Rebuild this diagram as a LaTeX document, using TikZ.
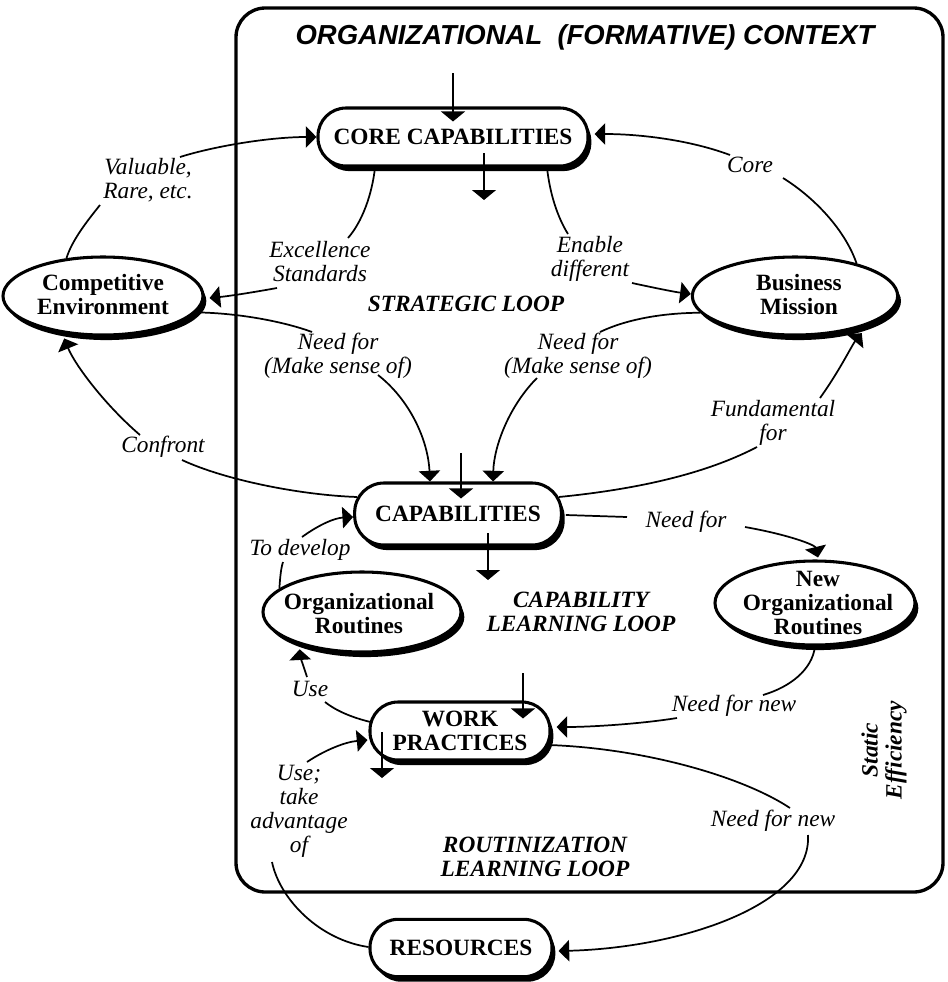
\documentclass[tikz,border=0pt]{standalone}
\usepackage{fontspec}
\setmainfont{Liberation Serif}
\newfontfamily\titlefamily{Liberation Sans}
\usetikzlibrary{shapes.geometric,arrows.meta,shadows,calc}
\newcommand{\nodefont}{\bfseries\fontsize{17.5}{18}\selectfont}
\newcommand{\labfont}{\itshape\fontsize{17.5}{18}\selectfont}
\newcommand{\loopfont}{\bfseries\itshape\fontsize{17.5}{18}\selectfont}
\newcommand{\tfont}{\titlefamily\bfseries\itshape\fontsize{20.6}{22}\selectfont}
\begin{document}
\begin{tikzpicture}[x=0.75pt,y=-0.75pt,
  every node/.style={inner sep=0pt},
  conn/.style={line width=1.3pt},
  tipped/.style={conn,-{Triangle[width=16pt,length=8pt]}},
  vert/.style={line width=1.1pt,-{Triangle[width=18pt,length=7.5pt]}},
  shadowed/.style={drop shadow={shadow xshift=2.5pt,shadow yshift=-3.8pt,fill=black,opacity=1}},
  pill/.style={draw,line width=2.3pt,fill=white,rectangle,shadowed,font=\nodefont,align=center},
  oval/.style={draw,line width=2.3pt,fill=white,ellipse,shadowed},
  nodetext/.style={font=\nodefont,align=center},
  lab/.style={font=\labfont,align=center,inner sep=1pt},
  looplab/.style={font=\loopfont,align=center},
]
\useasboundingbox (0,0) rectangle (948,982);
\fill[white] (0,0) rectangle (948,982);

% context frame
\draw[line width=2.5pt,rounded corners=22pt] (236,8) rectangle (943,892);
\node[font=\tfont] (title) at (585,37) {ORGANIZATIONAL~~(FORMATIVE) CONTEXT};

% main nodes
\node[pill,rounded corners=21pt,minimum width=202.5pt,minimum height=43.5pt] (cc) at (453,137) {CORE CAPABILITIES};
\node[pill,rounded corners=22pt,minimum width=155pt,minimum height=46.5pt] (cap) at (458,514) {CAPABILITIES};
\node[pill,rounded corners=21pt,minimum width=135pt,minimum height=43.5pt] (wp) at (460,731) {WORK\\PRACTICES};
\node[pill,rounded corners=21pt,minimum width=136.5pt,minimum height=43pt] (res) at (461,948) {RESOURCES};

\node[oval,minimum width=150pt,minimum height=58.5pt] (ce) at (103,296) {};
\node[nodetext] (cet) at (103,295) {Competitive\\Environment};
\node[oval,minimum width=154pt,minimum height=58.5pt] (bm) at (795,296) {};
\node[nodetext] (bmt) at (799,295) {Business\\Mission};
\node[oval,minimum width=148.5pt,minimum height=60pt] (org) at (362,612) {};
\node[nodetext] (orgt) at (359,614) {Organizational\\Routines};
\node[oval,minimum width=150pt,minimum height=63pt] (nor) at (815,603) {};
\node[nodetext] (nort) at (818,603) {New\\Organizational\\Routines};

% connector labels
\node[lab] (val) at (148,180) {Valuable,\\Rare, etc.};
\node[lab] (exc) at (320,262) {Excellence\\Standards};
\node[lab] (ena) at (590,259) {Enable\\different};
\node[lab] (core) at (750,165) {Core};
\node[lab] (nf1) at (338,356) {Need for\\(Make sense of)};
\node[lab] (nf2) at (578,356) {Need for\\(Make sense of)};
\node[lab] (fund) at (773,423) {Fundamental\\for};
\node[lab] (conf) at (163,447) {Confront};
\node[lab] (todev) at (300,550) {To develop};
\node[lab] (nf3) at (686,522) {Need for};
\node[lab] (use) at (310,689) {Use};
\node[lab] (nfn1) at (734,706) {Need for new};
\node[lab] (usetake) at (299,811) {Use;\\take\\advantage\\of};
\node[lab] (nfn2) at (773,821) {Need for new};

% loop labels
\node[looplab] (strat) at (466,304) {STRATEGIC LOOP};
\node[looplab] (caploop) at (581,612) {CAPABILITY\\LEARNING LOOP};
\node[looplab] (routloop) at (535,857) {ROUTINIZATION\\LEARNING LOOP};
\node[looplab,rotate=90] (stat) at (884,750) {Static\\Efficiency};

% connectors
\draw[conn] (ce.134) .. controls (72,240) and (88,220) .. ($(val)+(-48,25)$);
\draw[tipped] ($(val)+(32,-23)$) .. controls (215,146) and (270,137) .. (cc.west);

\draw[conn] ($(cc.south)+(-78,0)$) .. controls (372,195) and (362,222) .. ($(exc)+(28,-24)$);
\draw[tipped] ($(exc)+(-43,26)$) .. controls (255,292) and (230,296) .. ($(ce.east)+(5,2)$);

\draw[conn] ($(cc.south)+(94,0)$) .. controls (550,195) and (558,218) .. ($(ena)+(-22,-25)$);
\draw[tipped] ($(ena)+(42,24)$) .. controls (655,288) and (675,292) .. ($(bm.west)+(0,-2)$);

\draw[conn] (bm.28) .. controls (845,230) and (815,198) .. ($(core)+(33,13)$);
\draw[tipped] ($(core)+(-20,-10)$) .. controls (690,140) and (640,134) .. ($(cc.east)+(5,-3)$);

\draw[conn] (ce.-10) .. controls (240,313) and (285,322) .. ($(nf1)+(-26,-24)$);
\draw[tipped] ($(nf1)+(40,19)$) .. controls (410,400) and (428,440) .. ($(cap.north)+(-28,0)$);

\draw[conn] (bm.190) .. controls (660,313) and (625,320) .. ($(nf2)+(22,-24)$);
\draw[tipped] ($(nf2)+(-41,22)$) .. controls (510,405) and (494,445) .. ($(cap.north)+(35,0)$);

\draw[conn] ($(cap.west)+(4,-17)$) .. controls (300,495) and (225,480) .. ($(conf)+(19,13)$);
\draw[tipped] ($(conf)+(-23,-12)$) .. controls (105,405) and (75,365) .. ($(ce.224)+(0,5)$);

\draw[conn] ($(cap.east)+(-4,-17)$) .. controls (650,488) and (713,470) .. ($(fund)+(-16,24)$);
\draw[tipped] ($(fund)+(47,-25)$) .. controls (840,370) and (852,345) .. ($(bm.-25)+(0,6)$);

\draw[conn] ($(cap.east)+(3,1)$) -- ($(nf3)+(-59,-5)$);
\draw[tipped] ($(nf3)+(59,5)$) .. controls (790,535) and (815,545) .. ($(nor.north)+(3,-2)$);

\draw[conn] (org.164) .. controls (280,578) and (281,568) .. ($(todev)+(-17,12)$);
\draw[tipped] ($(todev)+(2,-13)$) .. controls (320,524) and (335,518) .. ($(cap.west)+(0,3)$);

\draw[conn] ($(wp.west)+(2,-9)$) .. controls (350,717) and (335,710) .. ($(use)+(15,13)$);
\draw[tipped] ($(use)+(-3,-12)$) .. controls (303,665) and (300,655) .. ($(org.207)+(1,5)$);

\draw[conn] (nor.south) .. controls (812,670) and (790,687) .. ($(nfn1)+(29,-11)$);
\draw[tipped] ($(nfn1)+(-57,12)$) .. controls (640,724) and (590,727) .. ($(wp.east)+(5,-4)$);

\draw[conn] ($(res.west)+(0,-1)$) .. controls (320,940) and (280,900) .. ($(usetake)+(-27,51)$);
\draw[tipped] ($(usetake)+(8,-49)$) .. controls (325,750) and (345,742) .. ($(wp.west)+(-1,9)$);

\draw[conn] ($(wp.east)+(-3,14)$) .. controls (640,748) and (740,775) .. ($(nfn2)+(17,-13)$);
\draw[tipped] ($(nfn2)+(35,14)$) .. controls (812,905) and (680,948) .. ($(res.east)+(5,3)$);

% formative-context influence arrows
\coordinate (ccin) at (453,73);
\coordinate (ccout) at (484,200);
\coordinate (capin) at (461,453);
\coordinate (capout) at (488,580);
\coordinate (wpin) at (523,673);
\coordinate (wpout) at (382,778);
\draw[vert] (ccin) -- (ccin |- {$(cc.north)+(0,15)$});
\draw[vert] (ccout |- {$(cc.center)+(0,16)$}) -- (ccout);
\draw[vert] (capin) -- (capin |- {$(cap.north)+(0,17)$});
\draw[vert] (capout |- {$(cap.center)+(0,19)$}) -- (capout);
\draw[vert] (wpin) -- (wpin |- {$(wp.north)+(0,18)$});
\draw[vert] (wpout |- {$(wp.center)+(0,1)$}) -- (wpout);
\end{tikzpicture}
\end{document}
